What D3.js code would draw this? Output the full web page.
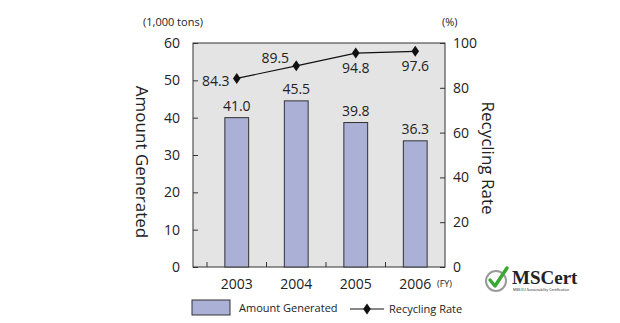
<!DOCTYPE html>
<html lang="en">
  <head>
    <meta charset="UTF-8" />
    <title>Amount Generated and Recycling Rate</title>
    <style>
      body { margin: 0; background: #fff; }
      text { font-family: "Open Sans", "Noto Sans", sans-serif; fill: #222; }
    </style>
  </head>
  <body>
    <div id="chart"></div>

    <script src="https://d3js.org/d3.v7.min.js"></script>
    <script>
      // data
      const years = ["2003", "2004", "2005", "2006"];
      const amounts = [40.0, 44.5, 38.7, 33.8]; // bar heights as drawn
      const amountLabels = ["41.0", "45.5", "39.8", "36.3"];
      const rates = [84.2, 89.8, 95.5, 96.3]; // line points as drawn
      const rateLabels = ["84.3", "89.5", "94.8", "97.6"];
      const leftTicks = [0, 10, 20, 30, 40, 50, 60];
      const rightTicks = [0, 20, 40, 60, 80, 100];

      const w = 620;
      const h = 323;
      const pLeft = 193, pRight = 445, pTop = 43, pBottom = 267;

      const svg = d3.select("#chart").append("svg")
        .attr("width", w).attr("height", h);

      // plot background
      svg.append("rect")
        .attr("x", pLeft).attr("y", pTop)
        .attr("width", pRight - pLeft).attr("height", pBottom - pTop)
        .attr("fill", "#e4e4e4")
        .attr("stroke", "#333").attr("stroke-width", 1);

      const x = d3.scaleBand().domain(years).range([207, pRight]).paddingInner(0.6).paddingOuter(0.3);
      const xb = d3.scaleBand().domain(years).range([207, pRight]);
      const yL = d3.scaleLinear().domain([0, 60]).range([pBottom, pTop]);
      const yR = d3.scaleLinear().domain([0, 100]).range([pBottom, pTop]);

      // left axis, inward ticks
      const gl = svg.append("g").attr("transform", `translate(${pLeft},0)`)
        .call(d3.axisLeft(yL).tickValues(leftTicks).tickSizeInner(-5).tickSizeOuter(0).tickPadding(13));
      gl.select(".domain").remove();
      gl.selectAll(".tick line").attr("stroke", "#333");
      gl.selectAll(".tick text").style("font-size", "14px").attr("fill", "#222");

      // right axis, inward ticks
      const gr = svg.append("g").attr("transform", `translate(${pRight},0)`)
        .call(d3.axisRight(yR).tickValues(rightTicks).tickSizeInner(-5).tickSizeOuter(0).tickPadding(8));
      gr.select(".domain").remove();
      gr.selectAll(".tick line").attr("stroke", "#333");
      gr.selectAll(".tick text").style("font-size", "14px").attr("fill", "#222");

      // category dividers along the bottom
      svg.selectAll(".divider").data(years).enter().append("line")
        .attr("x1", (d) => xb(d)).attr("x2", (d) => xb(d))
        .attr("y1", pBottom).attr("y2", pBottom - 5)
        .attr("stroke", "#333");

      // x labels
      svg.selectAll(".xlab").data(years).enter().append("text")
        .attr("x", (d) => x(d) + x.bandwidth() / 2).attr("y", pBottom + 22)
        .attr("text-anchor", "middle").style("font-size", "14px")
        .text((d) => d);
      svg.append("text").attr("x", 437).attr("y", pBottom + 20)
        .style("font-size", "9px").attr("fill", "#555").text("(FY)");

      // bars
      svg.selectAll(".bar").data(amounts).enter().append("rect")
        .attr("x", (d, i) => x(years[i]))
        .attr("y", (d) => yL(d))
        .attr("width", x.bandwidth())
        .attr("height", (d) => pBottom - yL(d))
        .attr("fill", "#aab0d6").attr("stroke", "#333").attr("stroke-width", 1);

      svg.selectAll(".barlab").data(amounts).enter().append("text")
        .attr("x", (d, i) => x(years[i]) + x.bandwidth() / 2)
        .attr("y", (d) => yL(d) - 7)
        .attr("text-anchor", "middle").style("font-size", "14px")
        .text((d, i) => amountLabels[i]);

      // recycling line
      const cx = (i) => x(years[i]) + x.bandwidth() / 2;
      const line = d3.line().x((d, i) => cx(i)).y((d) => yR(d));
      svg.append("path").datum(rates).attr("d", line)
        .attr("fill", "none").attr("stroke", "#111").attr("stroke-width", 1.2);

      const diamond = "M0,-5.5L3.8,0L0,5.5L-3.8,0Z";
      svg.selectAll(".pt").data(rates).enter().append("path")
        .attr("d", diamond)
        .attr("transform", (d, i) => `translate(${cx(i)},${yR(d)})`)
        .attr("fill", "#111");

      // rate labels: first two to the left, others below
      const labOff = [[-21, 8], [-21, -3], [0, 20], [0, 20]];
      svg.selectAll(".ratelab").data(rates).enter().append("text")
        .attr("x", (d, i) => cx(i) + labOff[i][0])
        .attr("y", (d, i) => yR(d) + labOff[i][1])
        .attr("text-anchor", "middle").style("font-size", "14px")
        .text((d, i) => rateLabels[i]);

      // units
      svg.append("text").attr("x", 143).attr("y", 26).style("font-size", "11px").attr("fill", "#444").text("(1,000 tons)");
      svg.append("text").attr("x", 442).attr("y", 26).style("font-size", "11px").attr("fill", "#444").text("(%)");

      // axis titles
      svg.append("text").attr("transform", "translate(136,162) rotate(90)")
        .attr("text-anchor", "middle").style("font-size", "17px").text("Amount Generated");
      svg.append("text").attr("transform", "translate(482,158) rotate(90)")
        .attr("text-anchor", "middle").style("font-size", "17px").text("Recycling Rate");

      // legend
      svg.append("rect").attr("x", 192).attr("y", 300).attr("width", 38).attr("height", 15)
        .attr("fill", "#aab0d6").attr("stroke", "#333");
      svg.append("text").attr("x", 239).attr("y", 312).style("font-size", "11px").attr("fill", "#444").text("Amount Generated");
      svg.append("line").attr("x1", 350).attr("x2", 384).attr("y1", 309).attr("y2", 309).attr("stroke", "#111").attr("stroke-width", 1.2);
      svg.append("path").attr("d", diamond).attr("transform", "translate(367,309)").attr("fill", "#111");
      svg.append("text").attr("x", 389).attr("y", 313).style("font-size", "11px").attr("fill", "#444").text("Recycling Rate");

      // logo
      const logo = svg.append("g").attr("transform", "translate(496,281)");
      logo.append("circle").attr("r", 10).attr("fill", "#fff").attr("stroke", "#9a9a9a").attr("stroke-width", 2);
      logo.append("path").attr("d", "M-6,-1L-1,5L11,-13")
        .attr("fill", "none").attr("stroke", "#3aa832").attr("stroke-width", 3.5)
        .attr("stroke-linecap", "round").attr("stroke-linejoin", "round");
      logo.append("text").attr("x", 16).attr("y", 3)
        .style("font-family", "'Liberation Serif', serif").style("font-weight", "bold").style("font-size", "19px")
        .attr("fill", "#111").text("MSCert");
      logo.append("text").attr("x", 17).attr("y", 10)
        .style("font-size", "3.5px").attr("fill", "#444").text("MBS EU Sustainability Certification");
    </script>
  </body>
</html>
